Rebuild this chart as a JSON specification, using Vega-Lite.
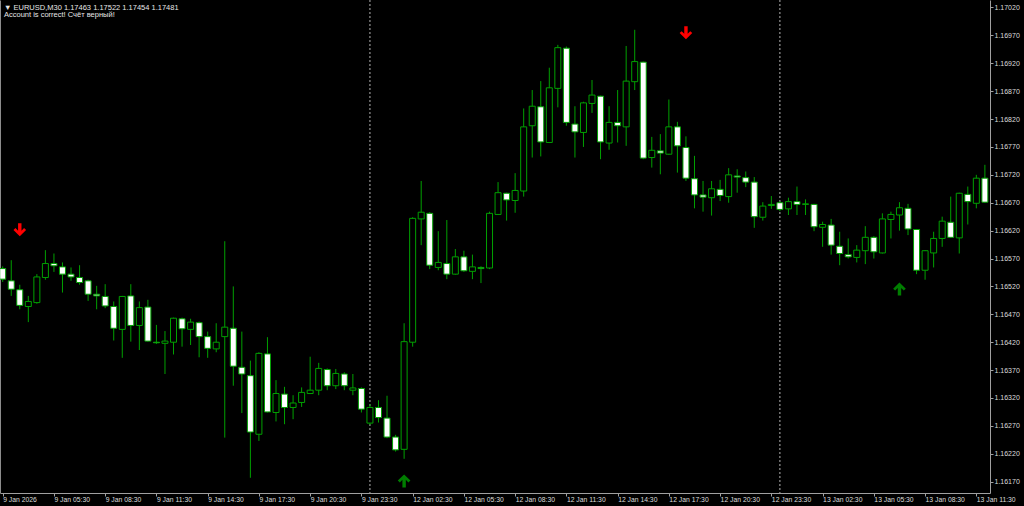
{
  "$schema": "https://vega.github.io/schema/vega-lite/v6.json",
  "width": 990,
  "height": 493,
  "autosize": {"type": "none"},
  "padding": {"left": 0, "top": 0, "right": 34, "bottom": 13},
  "background": "#000000",
  "title": {
    "text": "▼ EURUSD,M30  1.17463 1.17522 1.17454 1.17481",
    "subtitle": "Account is correct! Счёт верный!",
    "anchor": "start",
    "frame": "group",
    "orient": "top",
    "offset": -19,
    "dx": 4,
    "font": "Liberation Sans",
    "fontSize": 7.5,
    "fontWeight": "normal",
    "color": "#e6e6e6",
    "subtitleFont": "Liberation Sans",
    "subtitleFontSize": 7.5,
    "subtitleColor": "#e6e6e6",
    "subtitlePadding": 0
  },
  "datasets": {
    "candles": [
      {"i":0,"o":1.16552,"h":1.16556,"l":1.16528,"c":1.16533},
      {"i":1,"o":1.16530,"h":1.16567,"l":1.16503,"c":1.16515},
      {"i":2,"o":1.16514,"h":1.16523,"l":1.16479,"c":1.16486},
      {"i":3,"o":1.16484,"h":1.16503,"l":1.16456,"c":1.16493},
      {"i":4,"o":1.16491,"h":1.16542,"l":1.16489,"c":1.16537},
      {"i":5,"o":1.16536,"h":1.16585,"l":1.16532,"c":1.16561},
      {"i":6,"o":1.16561,"h":1.16579,"l":1.16546,"c":1.16557},
      {"i":7,"o":1.16555,"h":1.16563,"l":1.16509,"c":1.16542},
      {"i":8,"o":1.16542,"h":1.16554,"l":1.16530,"c":1.16537},
      {"i":9,"o":1.16536,"h":1.16558,"l":1.16523,"c":1.16527},
      {"i":10,"o":1.16530,"h":1.16532,"l":1.16494,"c":1.16506},
      {"i":11,"o":1.16506,"h":1.16521,"l":1.16479,"c":1.16503},
      {"i":12,"o":1.16502,"h":1.16524,"l":1.16481,"c":1.16485},
      {"i":13,"o":1.16484,"h":1.16493,"l":1.16423,"c":1.16445},
      {"i":14,"o":1.16443,"h":1.16503,"l":1.16392,"c":1.16502},
      {"i":15,"o":1.16503,"h":1.16524,"l":1.16421,"c":1.16450},
      {"i":16,"o":1.16450,"h":1.16493,"l":1.16406,"c":1.16482},
      {"i":17,"o":1.16483,"h":1.16496,"l":1.16421,"c":1.16422},
      {"i":18,"o":1.16420,"h":1.16451,"l":1.16417,"c":1.16419},
      {"i":19,"o":1.16418,"h":1.16440,"l":1.16363,"c":1.16422},
      {"i":20,"o":1.16420,"h":1.16464,"l":1.16398,"c":1.16463},
      {"i":21,"o":1.16462,"h":1.16464,"l":1.16412,"c":1.16444},
      {"i":22,"o":1.16443,"h":1.16462,"l":1.16415,"c":1.16456},
      {"i":23,"o":1.16455,"h":1.16457,"l":1.16393,"c":1.16430},
      {"i":24,"o":1.16430,"h":1.16439,"l":1.16392,"c":1.16409},
      {"i":25,"o":1.16408,"h":1.16454,"l":1.16402,"c":1.16420},
      {"i":26,"o":1.16430,"h":1.16601,"l":1.16249,"c":1.16447},
      {"i":27,"o":1.16445,"h":1.16520,"l":1.16342,"c":1.16377},
      {"i":28,"o":1.16375,"h":1.16439,"l":1.16293,"c":1.16363},
      {"i":29,"o":1.16360,"h":1.16387,"l":1.16177,"c":1.16259},
      {"i":30,"o":1.16255,"h":1.16402,"l":1.16243,"c":1.16400},
      {"i":31,"o":1.16399,"h":1.16429,"l":1.16294,"c":1.16295},
      {"i":32,"o":1.16294,"h":1.16352,"l":1.16278,"c":1.16328},
      {"i":33,"o":1.16327,"h":1.16340,"l":1.16273,"c":1.16303},
      {"i":34,"o":1.16303,"h":1.16325,"l":1.16282,"c":1.16311},
      {"i":35,"o":1.16312,"h":1.16339,"l":1.16304,"c":1.16330},
      {"i":36,"o":1.16328,"h":1.16394,"l":1.16327,"c":1.16334},
      {"i":37,"o":1.16334,"h":1.16383,"l":1.16325,"c":1.16373},
      {"i":38,"o":1.16371,"h":1.16373,"l":1.16334,"c":1.16342},
      {"i":39,"o":1.16342,"h":1.16372,"l":1.16336,"c":1.16364},
      {"i":40,"o":1.16363,"h":1.16366,"l":1.16334,"c":1.16342},
      {"i":41,"o":1.16334,"h":1.16363,"l":1.16325,"c":1.16338},
      {"i":42,"o":1.16337,"h":1.16339,"l":1.16294,"c":1.16300},
      {"i":43,"o":1.16275,"h":1.16309,"l":1.16272,"c":1.16303},
      {"i":44,"o":1.16303,"h":1.16316,"l":1.16276,"c":1.16285},
      {"i":45,"o":1.16284,"h":1.16324,"l":1.16248,"c":1.16250},
      {"i":46,"o":1.16250,"h":1.16254,"l":1.16224,"c":1.16227},
      {"i":47,"o":1.16228,"h":1.16454,"l":1.16211,"c":1.16421},
      {"i":48,"o":1.16420,"h":1.16644,"l":1.16412,"c":1.16642},
      {"i":49,"o":1.16641,"h":1.16709,"l":1.16594,"c":1.16653},
      {"i":50,"o":1.16651,"h":1.16653,"l":1.16551,"c":1.16558},
      {"i":51,"o":1.16554,"h":1.16619,"l":1.16549,"c":1.16563},
      {"i":52,"o":1.16561,"h":1.16639,"l":1.16533,"c":1.16542},
      {"i":53,"o":1.16542,"h":1.16587,"l":1.16541,"c":1.16573},
      {"i":54,"o":1.16573,"h":1.16584,"l":1.16546,"c":1.16548},
      {"i":55,"o":1.16547,"h":1.16577,"l":1.16533,"c":1.16555},
      {"i":56,"o":1.16554,"h":1.16556,"l":1.16526,"c":1.16552},
      {"i":57,"o":1.16553,"h":1.16654,"l":1.16551,"c":1.16651},
      {"i":58,"o":1.16649,"h":1.16707,"l":1.16648,"c":1.16688},
      {"i":59,"o":1.16687,"h":1.16688,"l":1.16638,"c":1.16675},
      {"i":60,"o":1.16674,"h":1.16723,"l":1.16652,"c":1.16692},
      {"i":61,"o":1.16691,"h":1.16839,"l":1.16681,"c":1.16806},
      {"i":62,"o":1.16808,"h":1.16872,"l":1.16751,"c":1.16843},
      {"i":63,"o":1.16842,"h":1.16888,"l":1.16753,"c":1.16779},
      {"i":64,"o":1.16778,"h":1.16912,"l":1.16777,"c":1.16876},
      {"i":65,"o":1.16875,"h":1.16953,"l":1.16841,"c":1.16948},
      {"i":66,"o":1.16947,"h":1.16950,"l":1.16808,"c":1.16814},
      {"i":67,"o":1.16811,"h":1.16843,"l":1.16751,"c":1.16797},
      {"i":68,"o":1.16796,"h":1.16851,"l":1.16770,"c":1.16849},
      {"i":69,"o":1.16848,"h":1.16890,"l":1.16831,"c":1.16863},
      {"i":70,"o":1.16861,"h":1.16862,"l":1.16748,"c":1.16779},
      {"i":71,"o":1.16777,"h":1.16843,"l":1.16765,"c":1.16814},
      {"i":72,"o":1.16814,"h":1.16872,"l":1.16778,"c":1.16808},
      {"i":73,"o":1.16806,"h":1.16951,"l":1.16772,"c":1.16888},
      {"i":74,"o":1.16887,"h":1.16980,"l":1.16872,"c":1.16923},
      {"i":75,"o":1.16922,"h":1.16923,"l":1.16748,"c":1.16750},
      {"i":76,"o":1.16751,"h":1.16788,"l":1.16733,"c":1.16764},
      {"i":77,"o":1.16763,"h":1.16793,"l":1.16721,"c":1.16759},
      {"i":78,"o":1.16757,"h":1.16855,"l":1.16756,"c":1.16806},
      {"i":79,"o":1.16806,"h":1.16815,"l":1.16724,"c":1.16772},
      {"i":80,"o":1.16769,"h":1.16789,"l":1.16709,"c":1.16714},
      {"i":81,"o":1.16713,"h":1.16754,"l":1.16660,"c":1.16684},
      {"i":82,"o":1.16684,"h":1.16709,"l":1.16654,"c":1.16680},
      {"i":83,"o":1.16679,"h":1.16709,"l":1.16647,"c":1.16695},
      {"i":84,"o":1.16694,"h":1.16711,"l":1.16673,"c":1.16683},
      {"i":85,"o":1.16681,"h":1.16732,"l":1.16670,"c":1.16720},
      {"i":86,"o":1.16718,"h":1.16730,"l":1.16688,"c":1.16716},
      {"i":87,"o":1.16715,"h":1.16726,"l":1.16698,"c":1.16707},
      {"i":88,"o":1.16707,"h":1.16716,"l":1.16625,"c":1.16645},
      {"i":89,"o":1.16644,"h":1.16671,"l":1.16638,"c":1.16664},
      {"i":90,"o":1.16665,"h":1.16682,"l":1.16659,"c":1.16667},
      {"i":91,"o":1.16670,"h":1.16673,"l":1.16655,"c":1.16658},
      {"i":92,"o":1.16659,"h":1.16679,"l":1.16648,"c":1.16672},
      {"i":93,"o":1.16672,"h":1.16699,"l":1.16648,"c":1.16667},
      {"i":94,"o":1.16667,"h":1.16676,"l":1.16648,"c":1.16668},
      {"i":95,"o":1.16667,"h":1.16668,"l":1.16619,"c":1.16627},
      {"i":96,"o":1.16626,"h":1.16636,"l":1.16591,"c":1.16631},
      {"i":97,"o":1.16630,"h":1.16641,"l":1.16577,"c":1.16594},
      {"i":98,"o":1.16592,"h":1.16618,"l":1.16558,"c":1.16579},
      {"i":99,"o":1.16577,"h":1.16606,"l":1.16570,"c":1.16573},
      {"i":100,"o":1.16572,"h":1.16594,"l":1.16563,"c":1.16585},
      {"i":101,"o":1.16584,"h":1.16628,"l":1.16560,"c":1.16608},
      {"i":102,"o":1.16608,"h":1.16610,"l":1.16570,"c":1.16582},
      {"i":103,"o":1.16580,"h":1.16651,"l":1.16579,"c":1.16641},
      {"i":104,"o":1.16640,"h":1.16654,"l":1.16606,"c":1.16649},
      {"i":105,"o":1.16648,"h":1.16671,"l":1.16620,"c":1.16661},
      {"i":106,"o":1.16660,"h":1.16668,"l":1.16612,"c":1.16623},
      {"i":107,"o":1.16622,"h":1.16623,"l":1.16542,"c":1.16549},
      {"i":108,"o":1.16549,"h":1.16585,"l":1.16532,"c":1.16584},
      {"i":109,"o":1.16580,"h":1.16618,"l":1.16554,"c":1.16606},
      {"i":110,"o":1.16606,"h":1.16645,"l":1.16591,"c":1.16637},
      {"i":111,"o":1.16635,"h":1.16681,"l":1.16607,"c":1.16608},
      {"i":112,"o":1.16607,"h":1.16688,"l":1.16579,"c":1.16687},
      {"i":113,"o":1.16685,"h":1.16699,"l":1.16631,"c":1.16672},
      {"i":114,"o":1.16669,"h":1.16720,"l":1.16660,"c":1.16714},
      {"i":115,"o":1.16714,"h":1.16738,"l":1.16670,"c":1.16671}
    ],
    "signals": [
      {"i":2,"price":1.16622,"dir":"down"},
      {"i":80,"price":1.16975,"dir":"down"},
      {"i":47,"price":1.16171,"dir":"up"},
      {"i":105,"price":1.16515,"dir":"up"}
    ],
    "seps": [
      {"i":43},
      {"i":91}
    ]
  },
  "layer": [
    {
      "data": {"name": "seps"},
      "mark": {"type": "rule", "color": "#b4b4b4", "strokeDash": [2, 2], "strokeWidth": 1},
      "encoding": {
        "x": {"field": "i", "type": "quantitative"}
      }
    },
    {
      "data": {"name": "candles"},
      "mark": {"type": "rule", "color": "#00a000", "strokeWidth": 1},
      "encoding": {
        "x": {
          "field": "i",
          "type": "quantitative",
          "scale": {"domain": [-0.316, 115.6], "nice": false, "zero": false, "padding": 0},
          "axis": {
            "orient": "bottom",
            "values": [0,6,12,18,24,30,36,42,48,54,60,66,72,78,84,90,96,102,108,114],
            "labelExpr": "['9 Jan 2026','9 Jan 05:30','9 Jan 08:30','9 Jan 11:30','9 Jan 14:30','9 Jan 17:30','9 Jan 20:30','9 Jan 23:30','12 Jan 02:30','12 Jan 05:30','12 Jan 08:30','12 Jan 11:30','12 Jan 14:30','12 Jan 17:30','12 Jan 20:30','12 Jan 23:30','13 Jan 02:30','13 Jan 05:30','13 Jan 08:30','13 Jan 11:30'][round(datum.value/6)]",
            "title": null,
            "grid": false,
            "domainColor": "#a0a0a0",
            "tickColor": "#a0a0a0",
            "tickSize": 3,
            "labelAlign": "left",
            "labelBaseline": "top",
            "labelDx": 1,
            "labelPadding": 0,
            "labelColor": "#dcdcdc",
            "labelFont": "Liberation Sans",
            "labelFontSize": 6.8,
            "labelOverlap": false,
            "labelFlush": false,
            "labelBound": false
          }
        },
        "y": {
          "field": "l",
          "type": "quantitative",
          "scale": {"domain": [1.161497, 1.170334], "nice": false, "zero": false},
          "axis": {
            "orient": "right",
            "values": [1.1617,1.1622,1.1627,1.1632,1.1637,1.1642,1.1647,1.1652,1.1657,1.1662,1.1667,1.1672,1.1677,1.1682,1.1687,1.1692,1.1697,1.1702],
            "format": ".5f",
            "title": null,
            "grid": false,
            "domainColor": "#a0a0a0",
            "tickColor": "#a0a0a0",
            "tickSize": 3,
            "labelPadding": 1,
            "labelColor": "#dcdcdc",
            "labelFont": "Liberation Sans",
            "labelFontSize": 7,
            "labelOverlap": false,
            "labelBound": false,
            "labelFlush": false
          }
        },
        "y2": {"field": "h"}
      }
    },
    {
      "data": {"name": "candles"},
      "mark": {"type": "bar", "width": 6, "stroke": "#00a000", "strokeWidth": 1},
      "encoding": {
        "x": {"field": "i", "type": "quantitative"},
        "y": {"field": "o", "type": "quantitative", "axis": null},
        "y2": {"field": "c"},
        "fill": {
          "condition": {"test": "datum.c < datum.o", "value": "#ffffff"},
          "value": "#000000"
        }
      }
    },
    {
      "data": {"name": "signals"},
      "mark": {"type": "point", "filled": true, "size": 160, "opacity": 1},
      "encoding": {
        "x": {"field": "i", "type": "quantitative"},
        "y": {
          "field": "price",
          "type": "quantitative",
          "axis": {"orient": "left", "labels": false, "ticks": false, "grid": false, "title": null, "domain": true, "domainColor": "#8c8c8c"}
        },
        "shape": {
          "field": "dir",
          "type": "nominal",
          "scale": {
            "domain": ["down", "up"],
            "range": [
              "M-0.27,-1 L0.27,-1 L0.27,0.2 L0.68,-0.22 L1,0.08 L0,1.05 L-1,0.08 L-0.68,-0.22 L-0.27,0.2 Z",
              "M-0.27,1 L0.27,1 L0.27,-0.2 L0.68,0.22 L1,-0.08 L0,-1.05 L-1,-0.08 L-0.68,0.22 L-0.27,-0.2 Z"
            ]
          },
          "legend": null
        },
        "color": {
          "field": "dir",
          "type": "nominal",
          "scale": {"domain": ["down", "up"], "range": ["#ff0000", "#007d00"]},
          "legend": null
        }
      }
    }
  ],
  "resolve": {"axis": {"y": "independent"}},
  "config": {
    "view": {"stroke": null}
  }
}
